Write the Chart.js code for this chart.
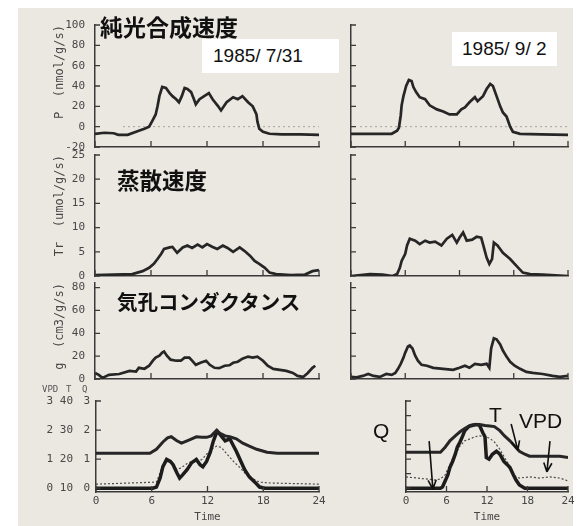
<!DOCTYPE html>
<html>
<head>
<meta charset="utf-8">
<script src="https://cdn.jsdelivr.net/npm/chart.js@4.4.1/dist/chart.umd.min.js"></script>
<style>
  body { margin: 0; width: 579px; height: 526px; position: relative; overflow: hidden; background: #fff; font-family: "Liberation Sans", Arial, sans-serif; }
  #paper { position: absolute; left: 18px; top: 8px; width: 555px; height: 518px; background: #ebe8e1; }
  canvas { position: absolute; }
  .jp { position: absolute; font-family: "Noto Sans CJK JP", sans-serif; font-weight: 700; color: #111; line-height: 1; white-space: nowrap; }
  .date { position: absolute; background: #fff; font-size: 19px; line-height: 34px; height: 34px; color: #111; white-space: pre; box-sizing: border-box; }
  .note { position: absolute; font-size: 21px; line-height: 1; color: #111; }
  .hdr { position: absolute; top: 384px; font: 9px "DejaVu Sans Mono", monospace; color: #555; }
</style>
</head>
<body>
<div id="paper"></div>
<canvas id="p1L"></canvas><canvas id="p1R"></canvas>
<canvas id="p2L"></canvas><canvas id="p2R"></canvas>
<canvas id="p3L"></canvas><canvas id="p3R"></canvas>
<canvas id="p4L"></canvas><canvas id="p4R"></canvas>

<div class="jp" style="left:100px; top:15px; font-size:23px;">純光合成速度</div>
<div class="jp" style="left:117px; top:168px; font-size:22.5px;">蒸散速度</div>
<div class="jp" style="left:117px; top:291px; font-size:20.5px;">気孔コンダクタンス</div>
<div class="date" style="left:202px; top:39px; width:137px; padding-left:11px;">1985/ 7/31</div>
<div class="date" style="left:452px; top:32px; width:105px; padding-left:10px;">1985/ 9/ 2</div>
<div class="hdr" style="left:42px;">VPD</div>
<div class="hdr" style="left:66px;">T</div>
<div class="hdr" style="left:82px;">Q</div>
<div class="note" style="left:373px; top:420px;">Q</div>
<div class="note" style="left:489px; top:404px;">T</div>
<div class="note" style="left:519px; top:410px;">VPD</div>

<script>
// Time axis
const hourTicks = [0, 6, 12, 18, 24];

// Net photosynthesis P (nmol/g/s)
const pTicks = [-20, 0, 20, 40, 60, 80, 100];
const hoursP_0731 = [0, 1, 2, 2.5, 3.5, 4.7, 5.3, 5.8, 6.1, 6.5, 6.7, 6.9, 7.2, 7.6, 8.0, 8.3, 8.7, 9.0, 9.3, 9.6, 9.9, 10.3, 10.6, 10.8, 11.2, 11.7, 12.2, 12.6, 13.2, 13.5, 14.1, 14.8, 15.3, 15.8, 16.4, 16.9, 17.3, 17.4, 17.6, 18.0, 18.7, 20, 22, 24];
const netPhoto_0731 = [-7, -6, -6.5, -8, -8, -4, -2, 0, 5, 12, 20, 30, 39, 38, 33, 30, 27, 24, 30, 38, 37, 34, 27, 22, 27, 30, 33, 27, 20, 16, 24, 29, 27, 30, 24, 20, 12, 5, -2, -5, -7, -7.5, -7.5, -8];
const hoursP_0902 = [0, 2, 4.5, 5.1, 5.3, 5.5, 5.6, 5.8, 6.1, 6.4, 6.7, 6.9, 7.2, 7.6, 8.2, 8.7, 9.5, 10.2, 10.9, 11.7, 12.2, 12.6, 13.1, 13.7, 14.0, 14.6, 15.0, 15.4, 15.7, 16.1, 16.5, 16.8, 17.2, 17.6, 17.9, 18.7, 21, 24];
const netPhoto_0902 = [-7, -7, -7, -4, -1, 11, 21, 30, 40, 46, 45, 39, 34, 29, 27, 21, 17, 15, 12, 12, 17, 19, 24, 29, 25, 30, 37, 42, 40, 30, 20, 14, 10, 0, -5, -7, -7.5, -8];
const zeroHours_0731 = [3, 24];
const zeroHours_0902 = [1, 24];
const zeroValues = [0, 0];

// Transpiration Tr (umol/g/s)
const trTicks = [0, 5, 10, 15, 20, 25];
const hoursTr_0731 = [0, 2, 4, 5.1, 5.8, 6.3, 6.7, 7.1, 7.4, 8.0, 8.3, 8.8, 9.4, 9.9, 10.4, 11.0, 11.5, 12.0, 12.6, 13.1, 13.7, 14.2, 14.8, 15.5, 16.0, 16.6, 17.1, 17.6, 18.2, 18.7, 19.4, 21, 22.5, 23.3, 24];
const transp_0731 = [0.2, 0.3, 0.4, 1.0, 1.7, 2.5, 3.5, 4.6, 5.6, 5.9, 6.0, 4.8, 5.9, 6.3, 5.8, 6.5, 5.9, 6.6, 6.0, 5.6, 6.3, 5.8, 5.0, 5.9, 5.2, 4.2, 3.1, 2.5, 1.7, 0.7, 0.4, 0.2, 0.3, 1.0, 1.2];
const hoursTr_0902 = [0, 2.1, 3.5, 4.6, 5.1, 5.4, 5.6, 6.0, 6.2, 6.5, 7.1, 7.6, 8.2, 8.7, 9.3, 10.0, 10.6, 11.2, 11.7, 12.0, 12.4, 12.8, 13.4, 13.9, 14.4, 14.6, 14.8, 15.0, 15.3, 15.6, 15.8, 16.2, 16.8, 17.6, 18.3, 19.0, 19.8, 21.2, 24];
const transp_0902 = [0, 0.4, 0.3, 0, 0.4, 1.7, 3.1, 4.6, 6.3, 7.7, 7.3, 6.6, 7.3, 6.9, 7.1, 6.3, 7.7, 8.5, 6.9, 7.9, 9.0, 7.3, 7.5, 8.1, 7.9, 6.6, 5.2, 3.8, 2.5, 3.5, 6.9, 6.3, 4.8, 3.5, 2.1, 0.7, 0.4, 0.3, 0];

// Stomatal conductance g (cm3/g/s)
const gTicks = [0, 20, 40, 60, 80];
const hoursG_0731 = [0, 0.4, 0.8, 1.5, 2.6, 3.7, 4.4, 4.7, 5.3, 5.8, 6.2, 6.5, 6.9, 7.2, 7.4, 7.7, 8.1, 8.7, 9.2, 9.6, 10.1, 10.4, 10.8, 11.3, 11.9, 12.3, 12.8, 13.3, 13.9, 14.4, 14.8, 15.3, 15.8, 16.4, 16.9, 17.4, 18.0, 18.5, 19.1, 19.8, 20.5, 21.2, 21.7, 22.3, 22.8, 23.3, 23.6];
const conduct_0731 = [5.3, 3.6, 1, 3.6, 4.4, 7.1, 6.5, 9.8, 9.0, 11.6, 16, 18.7, 20.4, 23.1, 24, 20.4, 16.9, 16, 16, 18.7, 18.7, 16, 12.4, 14.2, 16, 12.4, 9.8, 9.5, 11.6, 12, 14.2, 15.1, 17.8, 19.6, 18.7, 19.6, 16, 11.6, 8.9, 8.0, 7.1, 5.3, 2.7, 1.8, 5.3, 9.8, 11.6];
const hoursG_0902 = [0, 0.6, 1.3, 1.9, 2.5, 3.2, 3.9, 4.5, 4.9, 5.2, 5.5, 5.8, 6.0, 6.3, 6.5, 6.8, 7.1, 7.4, 7.8, 8.4, 9.1, 10.2, 11.3, 12.0, 12.6, 13.1, 13.7, 14.4, 15.0, 15.3, 15.5, 15.8, 16.1, 16.5, 16.8, 17.2, 17.6, 18.1, 18.7, 19.4, 20.1, 21.2, 22.3, 23.1, 24];
const conduct_0902 = [1.8, 1.5, 2.7, 4.4, 2.7, 1.8, 4.4, 3.6, 5.3, 8.9, 13.3, 18.7, 23.1, 28.4, 29.3, 26.7, 20.4, 16, 12.4, 11.6, 9.8, 8.9, 8.0, 9.8, 11.6, 9.8, 13.3, 12.4, 13.3, 9.8, 26.7, 35.6, 34.7, 30.2, 24.9, 19.6, 15.1, 11.6, 8.9, 6.2, 5.3, 4.4, 2.7, 1.8, 2.7];

// Climate: light Q, temperature T (C), VPD
const qTicks = [0, 0.5, 1, 1.5, 2, 2.5, 3];
const tTicks = [10, 20, 30, 40];
const vpdTicks = [0, 1, 2, 3];
const hoursT_0731 = [0, 3, 5.8, 6.5, 7.2, 7.7, 8.1, 8.7, 9.2, 9.8, 10.3, 10.8, 11.4, 11.9, 12.4, 13.0, 13.3, 13.9, 14.4, 15.1, 15.8, 16.5, 17.3, 18.4, 19.5, 22, 24];
const temp_0731 = [22, 22, 22, 23.4, 25.9, 27.3, 27.7, 26.3, 25.5, 26.3, 27.0, 27.7, 27.5, 27.5, 28.0, 30.0, 29.0, 28.0, 27.7, 27.0, 25.5, 24.5, 23.4, 22.4, 22.0, 22.0, 22.0];
const hoursQ_0731 = [0, 6.1, 6.5, 6.9, 7.2, 7.6, 8.0, 8.3, 8.7, 9.0, 9.3, 9.8, 10.3, 10.8, 11.2, 11.5, 11.9, 12.3, 12.6, 13.0, 13.3, 13.9, 14.4, 14.8, 15.1, 15.5, 16.0, 16.5, 17.1, 17.6, 18.2, 24];
const light_0731 = [0, 0, 0.04, 0.35, 0.74, 0.99, 0.92, 0.81, 0.53, 0.35, 0.45, 0.64, 0.88, 0.99, 0.81, 0.74, 0.92, 1.24, 1.59, 1.94, 1.87, 1.63, 1.70, 1.45, 1.27, 0.99, 0.64, 0.39, 0.21, 0.04, 0, 0];
const hoursV_0731 = [0, 6.5, 6.9, 7.2, 7.6, 8.1, 8.7, 9.2, 9.8, 10.3, 10.8, 11.4, 11.9, 12.4, 13.0, 13.5, 14.1, 14.8, 15.5, 16.2, 16.9, 17.6, 18.7, 24];
const vpd_0731 = [0.14, 0.21, 0.53, 0.81, 0.92, 0.88, 0.64, 0.71, 0.85, 0.92, 0.9, 0.99, 1.17, 1.34, 1.45, 1.40, 1.17, 0.92, 0.71, 0.46, 0.32, 0.21, 0.18, 0.14];
const hoursT_0902 = [0, 5.1, 5.8, 6.5, 7.3, 8.0, 8.7, 9.5, 10.2, 10.9, 11.7, 12.4, 13.1, 13.9, 14.6, 15.4, 16.1, 16.8, 17.6, 18.3, 19.8, 22.8, 24];
const temp_0902 = [22.4, 22.4, 24.1, 26.3, 28.0, 29.4, 30.5, 31.6, 31.9, 31.9, 31.6, 31.4, 31.2, 29.8, 28.0, 26.3, 24.5, 22.7, 21.7, 21.0, 21.0, 21.0, 20.6];
const hoursQ_0902 = [0, 5.1, 5.4, 5.8, 6.2, 6.5, 6.9, 7.3, 7.6, 8.0, 8.4, 8.7, 9.3, 9.8, 10.4, 10.9, 11.4, 11.7, 11.9, 12.3, 12.8, 13.4, 13.9, 14.5, 15.0, 15.4, 15.9, 16.3, 16.8, 17.6, 24];
const light_0902 = [0, 0, 0.04, 0.25, 0.46, 0.71, 0.92, 1.17, 1.41, 1.59, 1.80, 1.98, 2.12, 2.16, 2.19, 2.16, 1.9, 1.77, 1.06, 1.0, 1.17, 1.27, 1.17, 0.92, 0.81, 0.71, 0.46, 0.28, 0.11, 0, 0];
const hoursV_0902 = [0, 2.9, 4.3, 5.1, 5.8, 6.5, 7.3, 8.0, 8.7, 9.5, 10.2, 10.9, 11.7, 12.4, 13.1, 13.9, 14.6, 15.4, 16.1, 16.8, 18.3, 19.8, 21.2, 22.8, 24];
const vpd_0902 = [0.39, 0.32, 0.28, 0.32, 0.46, 0.81, 1.17, 1.45, 1.63, 1.70, 1.77, 1.80, 1.77, 1.72, 1.59, 1.34, 1.06, 0.74, 0.42, 0.35, 0.39, 0.35, 0.39, 0.35, 0.25];

const ink = '#262626';
const axisInk = '#3a3a3a';
const labelInk = '#474747';
Chart.defaults.font.family = '"DejaVu Sans Mono", monospace';

// canvas boxes; paddings kept >= the label overhang so the plot areas land where the scan has them
const cols = {
  L: { left: 20, width: 309, yW: 75, padR: 10 },
  R: { left: 330, width: 248, yW: 21, padR: 10 }
};
const rows = [
  { top: 8, height: 156, padT: 17, padB: 17 },
  { top: 138, height: 155, padT: 17, padB: 17 },
  { top: 266, height: 130, padT: 17, padB: 17 },
  { top: 385, height: 141, padT: 16, padB: 2 }
];

const pts = (hours, values) => hours.map((h, i) => ({ x: h, y: values[i] }));
const tickList = vals => s => { s.ticks = vals.map(v => ({ value: v })); };

// short tick marks pointing into the plot, like the plotter figure
const inwardTicks = {
  id: 'inwardTicks',
  afterDraw(chart) {
    const { ctx, chartArea: a, scales: { x, y } } = chart;
    ctx.save();
    ctx.strokeStyle = axisInk;
    ctx.lineWidth = 1.3;
    ctx.beginPath();
    x.ticks.forEach(t => {
      const px = x.getPixelForValue(t.value);
      ctx.moveTo(px, a.bottom);
      ctx.lineTo(px, a.bottom - 6);
    });
    y.ticks.forEach(t => {
      const py = y.getPixelForValue(t.value);
      ctx.moveTo(a.left, py);
      ctx.lineTo(a.left + 5, py);
    });
    ctx.stroke();
    ctx.restore();
  }
};

const arrows = {
  id: 'arrows',
  afterDraw(chart, args, opts) {
    if (!opts.list) return;
    const { ctx, scales: { x, y } } = chart;
    ctx.save();
    ctx.strokeStyle = '#111';
    ctx.lineWidth = 1.6;
    opts.list.forEach(a => {
      const x0 = x.getPixelForValue(a.from[0]), y0 = y.getPixelForValue(a.from[1]);
      const x1 = x.getPixelForValue(a.to[0]), y1 = y.getPixelForValue(a.to[1]);
      const ang = Math.atan2(y1 - y0, x1 - x0);
      ctx.beginPath();
      ctx.moveTo(x0, y0);
      ctx.lineTo(x1, y1);
      for (const s of [-1, 1]) {
        ctx.moveTo(x1, y1);
        ctx.lineTo(x1 - 10 * Math.cos(ang + s * 0.42), y1 - 10 * Math.sin(ang + s * 0.42));
      }
      ctx.stroke();
    });
    ctx.restore();
  }
};

function yAxis(col, min, max, vals, title) {
  const left = col === 'L';
  return {
    type: 'linear', position: 'left', min, max,
    afterBuildTicks: tickList(vals),
    ticks: { display: left, padding: 10, color: labelInk, font: { size: 11 } },
    grid: { display: false, drawTicks: false },
    border: { display: true, color: axisInk, width: 1.5 },
    title: { display: left, text: title, align: 'end', color: labelInk, font: { size: 12 }, padding: { top: 33, bottom: 0 } },
    afterFit: s => { s.width = cols[col].yW; }
  };
}

function climateAxes(col) {
  const left = col === 'L';
  const base = { type: 'linear', position: 'left', grid: { display: false, drawTicks: false } };
  const lbl = { color: labelInk, font: { size: 11 } };
  return {
    y: { ...base, weight: 0, min: -0.13, max: 3, afterBuildTicks: tickList(qTicks),
      ticks: { ...lbl, display: left, padding: 6, callback: v => Number.isInteger(v) ? v : '' },
      border: { display: true, color: axisInk, width: 1.5 },
      afterFit: s => { s.width = 21; } },
    t: { ...base, weight: 1, display: left, min: 8.7, max: 40, afterBuildTicks: tickList(tTicks),
      ticks: { ...lbl, padding: 2 }, border: { display: false },
      afterFit: s => { s.width = 19; } },
    v: { ...base, weight: 2, display: left, min: -0.13, max: 3, afterBuildTicks: tickList(vpdTicks),
      ticks: { ...lbl, padding: 3 }, border: { display: false },
      afterFit: s => { s.width = 36; } }
  };
}

const curve = (data, extra) => Object.assign({ data, borderColor: ink, borderWidth: 2.7, pointRadius: 0 }, extra || {});
const zeroLine = hours => curve(pts(hours, zeroValues), { borderColor: '#aaa298', borderWidth: 1, borderDash: [2, 3] });

function panel(id, col, row, cfg) {
  const c = cols[col], r = rows[row];
  const canvas = document.getElementById(id);
  canvas.width = c.width;
  canvas.height = r.height;
  canvas.style.left = c.left + 'px';
  canvas.style.top = r.top + 'px';
  const bottomRow = row === 3;
  new Chart(canvas, {
    type: 'line',
    data: { datasets: cfg.datasets },
    options: {
      responsive: false,
      animation: false,
      events: [],
      layout: { padding: { left: 0, right: c.padR, top: r.padT, bottom: r.padB } },
      plugins: { legend: { display: false }, tooltip: { enabled: false }, arrows: { list: cfg.arrows } },
      scales: Object.assign({
        x: {
          type: 'linear', min: 0, max: 24,
          afterBuildTicks: tickList(hourTicks),
          ticks: { display: bottomRow, padding: 3, color: labelInk, font: { size: 11 }, maxRotation: 0, autoSkip: false },
          grid: { display: false, drawTicks: false },
          border: { display: true, color: axisInk, width: 1.5 },
          title: { display: bottomRow, text: 'Time', color: labelInk, font: { size: 11 }, padding: 0 },
          afterFit: s => { s.height = bottomRow ? 32 : 0; }
        }
      }, cfg.scales)
    },
    plugins: [inwardTicks, arrows]
  });
}

panel('p1L', 'L', 0, {
  scales: { y: yAxis('L', -20, 100, pTicks, 'P  (nmol/g/s)') },
  datasets: [curve(pts(hoursP_0731, netPhoto_0731)), zeroLine(zeroHours_0731)]
});
panel('p1R', 'R', 0, {
  scales: { y: yAxis('R', -20, 100, pTicks, '') },
  datasets: [curve(pts(hoursP_0902, netPhoto_0902)), zeroLine(zeroHours_0902)]
});
panel('p2L', 'L', 1, {
  scales: { y: yAxis('L', 0, 25, trTicks, 'Tr  (umol/g/s)') },
  datasets: [curve(pts(hoursTr_0731, transp_0731))]
});
panel('p2R', 'R', 1, {
  scales: { y: yAxis('R', 0, 25, trTicks, '') },
  datasets: [curve(pts(hoursTr_0902, transp_0902))]
});
panel('p3L', 'L', 2, {
  scales: { y: yAxis('L', 0, 84, gTicks, 'g  (cm3/g/s)') },
  datasets: [curve(pts(hoursG_0731, conduct_0731))]
});
panel('p3R', 'R', 2, {
  scales: { y: yAxis('R', 0, 84, gTicks, '') },
  datasets: [curve(pts(hoursG_0902, conduct_0902))]
});
panel('p4L', 'L', 3, {
  scales: climateAxes('L'),
  datasets: [
    curve(pts(hoursT_0731, temp_0731), { yAxisID: 't', borderWidth: 3 }),
    curve(pts(hoursQ_0731, light_0731), { yAxisID: 'y', borderWidth: 3.5, borderColor: '#1c1c1c' }),
    curve(pts(hoursV_0731, vpd_0731), { yAxisID: 'v', borderWidth: 1.2, borderDash: [2, 2], borderColor: '#4a4a4a' })
  ]
});
panel('p4R', 'R', 3, {
  scales: climateAxes('R'),
  datasets: [
    curve(pts(hoursT_0902, temp_0902), { yAxisID: 't', borderWidth: 3 }),
    curve(pts(hoursQ_0902, light_0902), { yAxisID: 'y', borderWidth: 3.5, borderColor: '#1c1c1c' }),
    curve(pts(hoursV_0902, vpd_0902), { yAxisID: 'v', borderWidth: 1.2, borderDash: [2, 2], borderColor: '#4a4a4a' })
  ],
  // label arrows (hour, value on the Q scale)
  arrows: [
    { from: [3.43, 1.62], to: [3.98, -0.03] },
    { from: [15.58, 2.21], to: [16.57, 1.31] },
    { from: [21.33, 1.62], to: [20.88, 0.56] }
  ]
});
</script>
</body>
</html>
